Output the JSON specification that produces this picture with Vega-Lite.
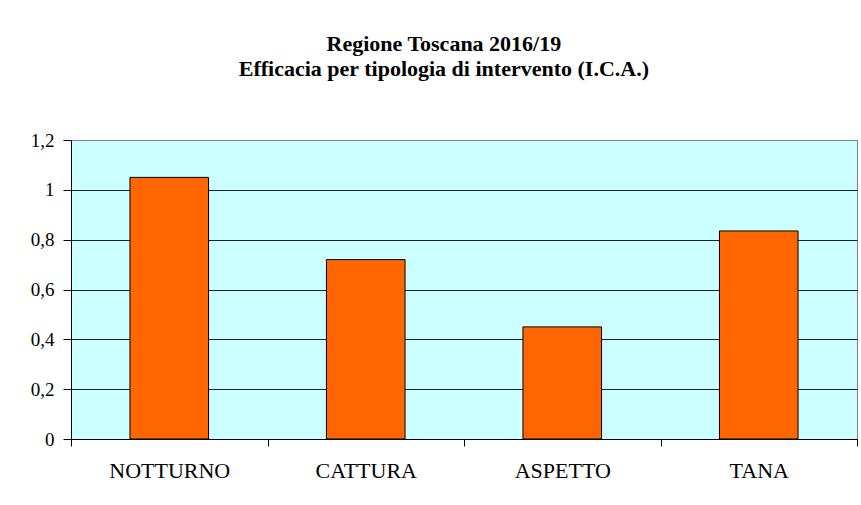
{
  "$schema": "https://vega.github.io/schema/vega-lite/v6.json",
  "width": 786,
  "height": 299,
  "autosize": "none",
  "padding": {"left": 71, "top": 140, "right": 4, "bottom": 66},
  "background": "white",
  "title": {
    "text": ["Regione Toscana 2016/19", "Efficacia per tipologia di intervento (I.C.A.)"],
    "font": "Liberation Serif",
    "fontSize": 22,
    "fontWeight": "bold",
    "color": "black",
    "lineHeight": 25,
    "anchor": "middle",
    "frame": "bounds",
    "offset": 50
  },
  "data": {
    "values": [
      {"tipologia": "NOTTURNO", "ica": 1.05},
      {"tipologia": "CATTURA", "ica": 0.72},
      {"tipologia": "ASPETTO", "ica": 0.45},
      {"tipologia": "TANA", "ica": 0.835}
    ]
  },
  "mark": {"type": "bar", "fill": "#FF6600", "stroke": "black", "strokeWidth": 1, "width": {"band": 0.4}},
  "encoding": {
    "x": {
      "field": "tipologia",
      "type": "nominal",
      "sort": null,
      "scale": {"paddingInner": 0, "paddingOuter": 0},
      "axis": {
        "title": null,
        "labelAngle": 0,
        "tickBand": "extent",
        "grid": false,
        "domainColor": "black",
        "tickColor": "black",
        "tickSize": 7,
        "labelFont": "Liberation Serif",
        "labelFontSize": 22,
        "labelColor": "black",
        "labelPadding": 14
      }
    },
    "y": {
      "field": "ica",
      "type": "quantitative",
      "scale": {"domain": [0, 1.2], "nice": false},
      "axis": {
        "title": null,
        "values": [0, 0.2, 0.4, 0.6, 0.8, 1, 1.2],
        "format": ".1~f",
        "labelExpr": "replace(datum.label, '.', ',')",
        "grid": true,
        "gridColor": {"condition": {"test": "datum.value >= 1.2", "value": "#808080"}, "value": "#222222"},
        "gridOpacity": 1,
        "domainColor": "black",
        "tickColor": "black",
        "tickSize": 8,
        "labelFont": "Liberation Serif",
        "labelFontSize": 19,
        "labelColor": "black",
        "labelPadding": 9
      }
    }
  },
  "config": {"font": "Liberation Serif", "view": {"fill": "#CCFFFF", "stroke": "#808080"}}
}
